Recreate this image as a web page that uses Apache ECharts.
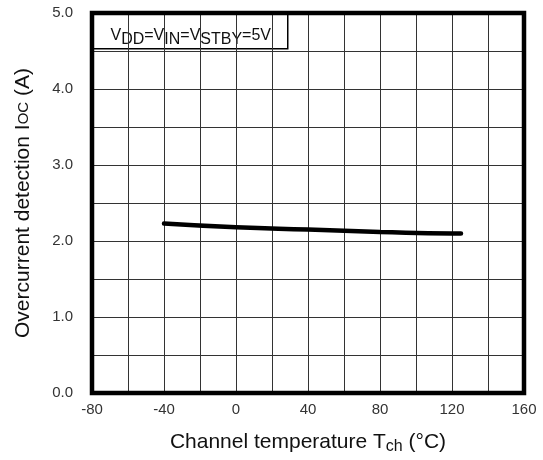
<!DOCTYPE html>
<html>
<head>
<meta charset="utf-8">
<script src="https://cdn.jsdelivr.net/npm/echarts@6/dist/echarts.min.js"></script>
<style>html,body{margin:0;padding:0;background:#fff}#c{width:543px;height:460px}</style>
</head>
<body>
<div id="c"></div>
<script>
var temperature = [-40, 0, 40, 80, 120, 125];
var iocValues = [2.23, 2.18, 2.15, 2.12, 2.10, 2.10];
var xTickLabels = ['-80', '-40', '0', '40', '80', '120', '160'];
var yTickLabels = ['0.0', '1.0', '2.0', '3.0', '4.0', '5.0'];

var chart = echarts.init(document.getElementById('c'));
var font = 'Liberation Sans, Arial, sans-serif';
var points = temperature.map(function (t, i) { return [t, iocValues[i]]; });

chart.setOption({
  animation: false,
  backgroundColor: '#fff',
  grid: { left: 92, right: 19, top: 13, bottom: 65, show: true, borderColor: '#000', borderWidth: 4.5, backgroundColor: 'transparent', z: 5 },
  xAxis: {
    type: 'value', min: -80, max: 160, interval: 20,
    axisLine: { show: false }, axisTick: { show: false },
    splitLine: { show: true, lineStyle: { color: '#333', width: 1 } },
    axisLabel: {
      color: '#333', fontFamily: font, fontSize: 15, margin: 9,
      formatter: function (v) { var s = String(v); return xTickLabels.indexOf(s) >= 0 ? s : ''; }
    },
    name: '{n|Channel temperature T}{s|ch}{n| (°C)}',
    nameLocation: 'middle', nameGap: 37,
    nameTextStyle: { fontFamily: font, color: '#111', rich: {
      n: { fontSize: 21, fontFamily: font, color: '#111' },
      s: { fontSize: 16, fontFamily: font, color: '#111', padding: [9, 0, 0, 0] }
    } }
  },
  yAxis: {
    type: 'value', min: 0, max: 5, interval: 0.5,
    axisLine: { show: false }, axisTick: { show: false },
    splitLine: { show: true, lineStyle: { color: '#333', width: 1 } },
    axisLabel: {
      color: '#333', fontFamily: font, fontSize: 15, margin: 19,
      formatter: function (v) { var s = v.toFixed(1); return yTickLabels.indexOf(s) >= 0 && Math.abs(v - Math.round(v)) < 1e-9 ? s : ''; }
    },
    name: '{n|Overcurrent detection I}{s|OC}{n| (A)}',
    nameLocation: 'middle', nameGap: 58,
    nameTextStyle: { fontFamily: font, color: '#111', rich: {
      n: { fontSize: 21, fontFamily: font, color: '#111' },
      s: { fontSize: 15, fontFamily: font, color: '#111' }
    } }
  },
  series: [{
    type: 'line', data: points, showSymbol: false, smooth: true,
    lineStyle: { color: '#000', width: 4.5, cap: 'round' }, z: 10
  }],
  graphic: [{
    type: 'group', left: 92, top: 13, z: 20,
    children: [
      { type: 'rect', shape: { x: 0, y: 0, width: 195, height: 35 }, style: { fill: '#fff', stroke: '#000', lineWidth: 1.5 } },
      { type: 'text', x: 98, y: 22, style: {
        text: '{n|V}{s|DD}{n|=V}{s|IN}{n|=V}{s|STBY}{n|=5V}',
        align: 'center', verticalAlign: 'middle',
        rich: {
          n: { fontSize: 16, fontFamily: font, fill: '#111' },
          s: { fontSize: 16, fontFamily: font, fill: '#111', padding: [8, 0, 0, 0] }
        }
      } }
    ]
  }]
});
</script>
</body>
</html>
